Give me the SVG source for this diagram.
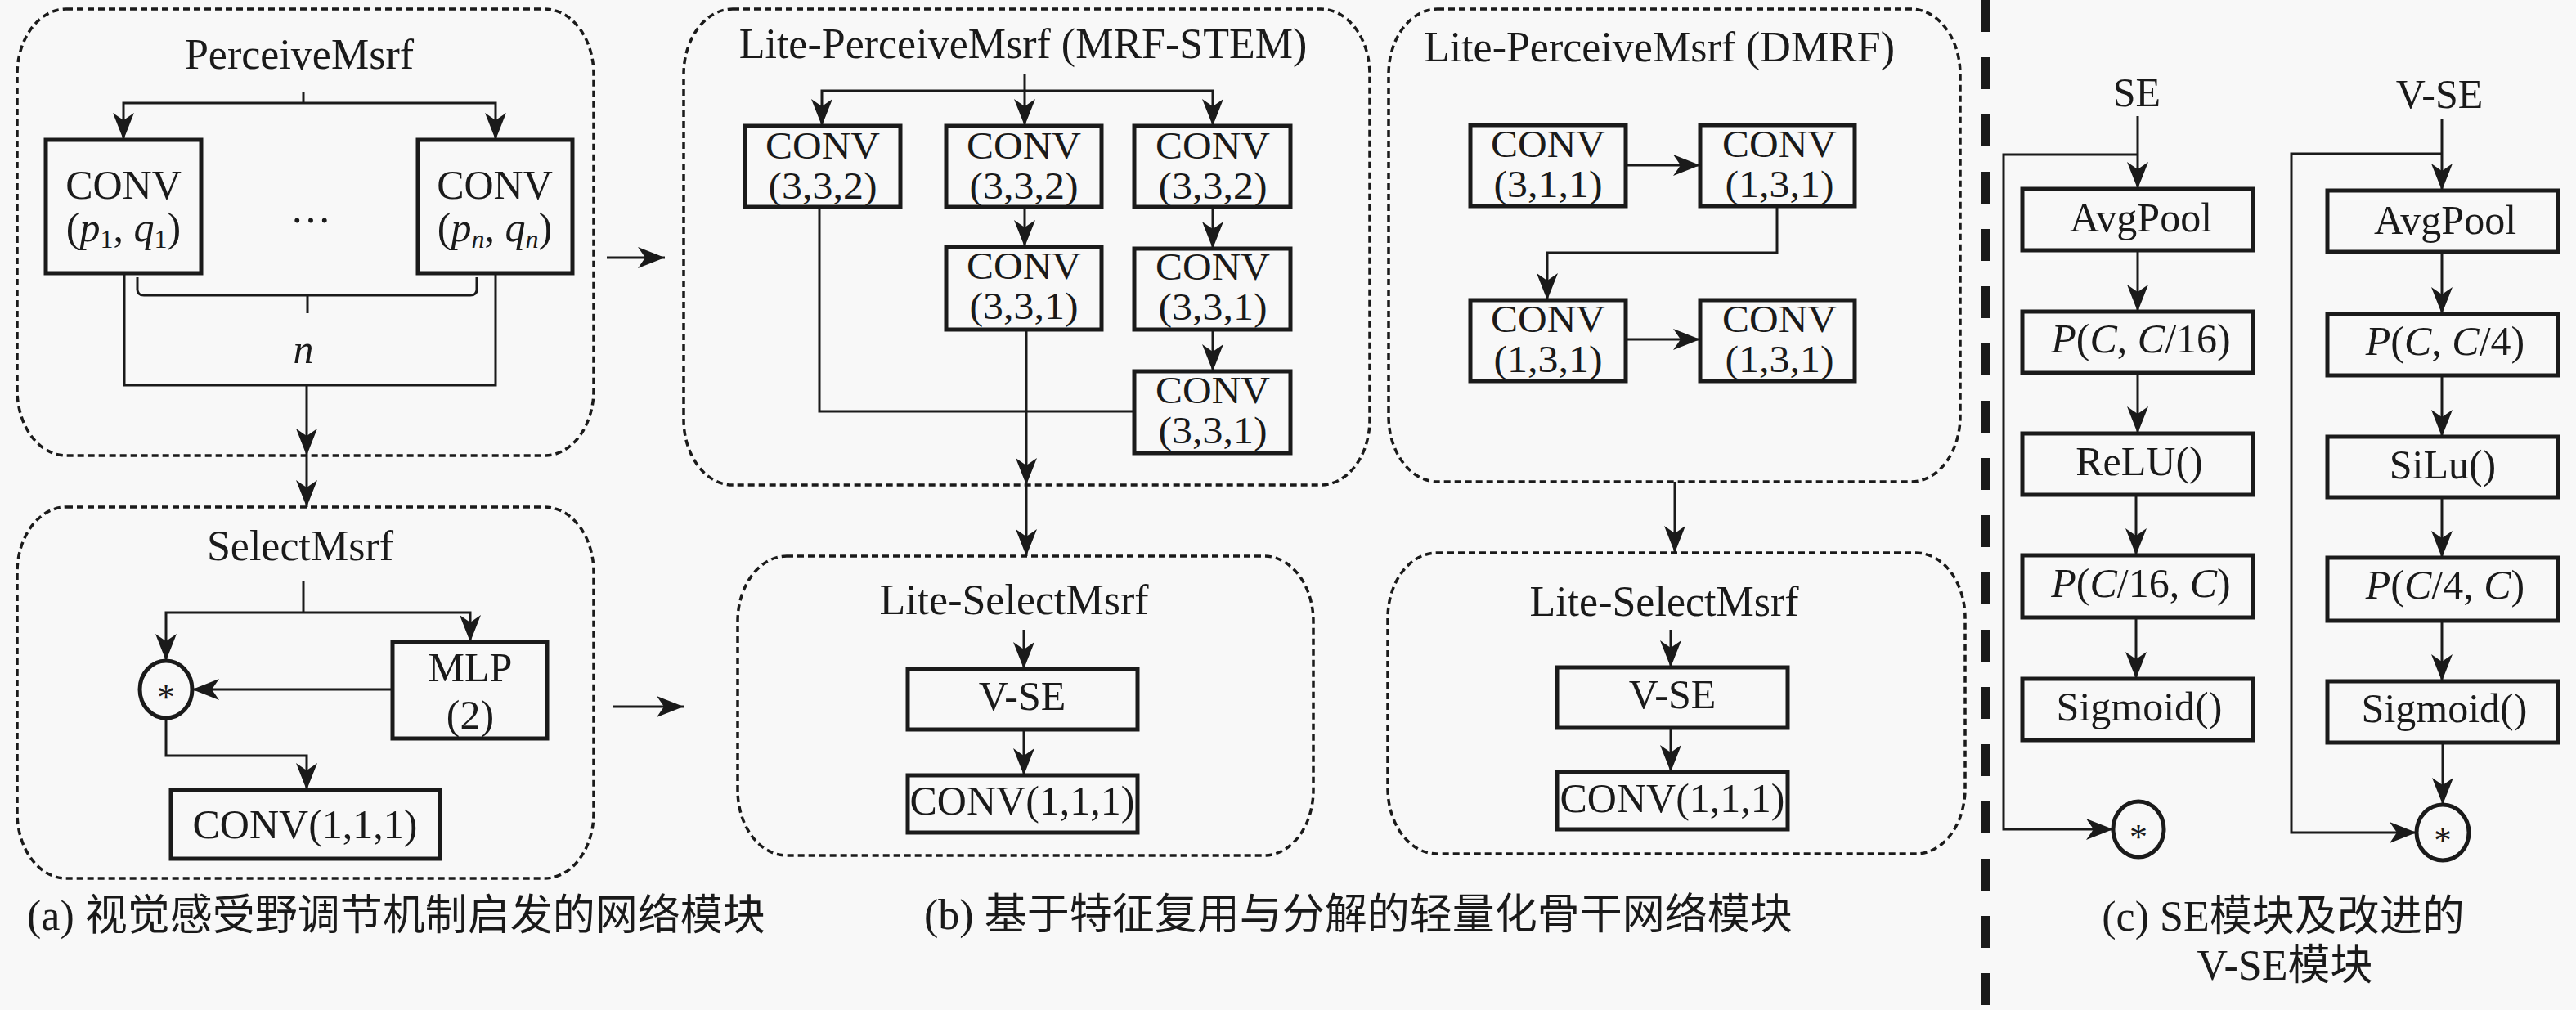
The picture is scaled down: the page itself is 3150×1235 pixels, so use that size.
<svg xmlns="http://www.w3.org/2000/svg" width="3150" height="1235" viewBox="0 0 3150 1235">
<defs>
<style>
.bg{fill:#f8f8f8}
.grp{fill:none;stroke:#1a1a1a;stroke-width:3.5;stroke-dasharray:8 5}
.box{fill:none;stroke:#1a1a1a;stroke-width:5}
.cn{fill:none;stroke:#1a1a1a;stroke-width:3}
.t{font-family:"Liberation Serif","Times New Roman",serif;font-size:50px;fill:#1a1a1a;text-anchor:middle}
.t2{font-family:"Liberation Serif","Times New Roman",serif;font-size:46px;fill:#1a1a1a;text-anchor:middle}
.tt{font-family:"Liberation Serif","Times New Roman",serif;font-size:52px;fill:#1a1a1a;text-anchor:middle}
.i{font-style:italic}
.sub{font-size:32px}
.cap{font-family:"Liberation Serif","Noto Sans CJK SC",serif;font-size:52px;fill:#1a1a1a}
</style>
<marker id="ah" markerUnits="userSpaceOnUse" markerWidth="34" markerHeight="26" viewBox="0 0 33 26" refX="33" refY="13" orient="auto">
<path d="M0,0 L33,13 L0,26 L9,13 Z" fill="#1a1a1a"/>
</marker>
</defs>
<rect class="bg" x="0" y="0" width="3150" height="1235"/>

<!-- Panel (a) -->
<g id="perceive-msrf">
<rect class="grp" x="21" y="11" width="705" height="546" rx="60" ry="80"/>
<text class="tt" x="366" y="84">PerceiveMsrf</text>
</g>
<g id="conv-p1">
<rect class="box" x="56" y="171" width="190" height="163"/>
<text class="t" x="151" y="243">CONV</text>
<text class="t" x="151" y="295">(<tspan class="i">p</tspan><tspan class="sub" dy="8">1</tspan><tspan dy="-8">, </tspan><tspan class="i">q</tspan><tspan class="sub" dy="8">1</tspan><tspan dy="-8">)</tspan></text>
</g>
<g id="conv-pn">
<rect class="box" x="511" y="171" width="189" height="163"/>
<text class="t" x="605" y="243">CONV</text>
<text class="t" x="605" y="295">(<tspan class="i">p</tspan><tspan class="sub i" dy="8">n</tspan><tspan dy="-8">, </tspan><tspan class="i">q</tspan><tspan class="sub i" dy="8">n</tspan><tspan dy="-8">)</tspan></text>
</g>
<g id="ellipsis"><text class="t" x="380" y="272">…</text></g>
<g id="n-label"><text class="t i" x="371" y="444">n</text></g>

<g id="select-msrf">
<rect class="grp" x="21" y="620" width="705" height="454" rx="60" ry="80"/>
<text class="tt" x="367" y="685">SelectMsrf</text>
</g>
<g id="mult-a">
<ellipse class="box" cx="203" cy="843" rx="32" ry="35"/>
<text class="t" x="203" y="867" style="font-size:44px">*</text>
</g>
<g id="mlp">
<rect class="box" x="480" y="785" width="189" height="118"/>
<text class="t" x="575" y="833">MLP</text>
<text class="t" x="575" y="891">(2)</text>
</g>
<g id="conv111-a">
<rect class="box" x="209" y="966" width="329" height="84"/>
<text class="t" x="373" y="1025">CONV(1,1,1)</text>
</g>

<!-- Panel (b) MRF-STEM -->
<g id="mrf-stem">
<rect class="grp" x="836" y="11" width="839" height="582" rx="60" ry="80"/>
<text class="tt" x="1251" y="71">Lite-PerceiveMsrf (MRF-STEM)</text>
</g>
<g id="mrf-b1"><rect class="box" x="911" y="154" width="190" height="99"/><text class="t2" x="1006" y="194" textLength="140" lengthAdjust="spacingAndGlyphs">CONV</text><text class="t2" x="1006" y="243" textLength="133" lengthAdjust="spacingAndGlyphs">(3,3,2)</text></g>
<g id="mrf-b2"><rect class="box" x="1157" y="154" width="190" height="99"/><text class="t2" x="1252" y="194" textLength="140" lengthAdjust="spacingAndGlyphs">CONV</text><text class="t2" x="1252" y="243" textLength="133" lengthAdjust="spacingAndGlyphs">(3,3,2)</text></g>
<g id="mrf-b3"><rect class="box" x="1387" y="154" width="191" height="99"/><text class="t2" x="1483" y="194" textLength="140" lengthAdjust="spacingAndGlyphs">CONV</text><text class="t2" x="1483" y="243" textLength="133" lengthAdjust="spacingAndGlyphs">(3,3,2)</text></g>
<g id="mrf-b2b"><rect class="box" x="1157" y="302" width="190" height="101"/><text class="t2" x="1252" y="341" textLength="140" lengthAdjust="spacingAndGlyphs">CONV</text><text class="t2" x="1252" y="390" textLength="133" lengthAdjust="spacingAndGlyphs">(3,3,1)</text></g>
<g id="mrf-b3b"><rect class="box" x="1387" y="304" width="191" height="99"/><text class="t2" x="1483" y="342" textLength="140" lengthAdjust="spacingAndGlyphs">CONV</text><text class="t2" x="1483" y="391" textLength="133" lengthAdjust="spacingAndGlyphs">(3,3,1)</text></g>
<g id="mrf-b3c"><rect class="box" x="1387" y="454" width="191" height="100"/><text class="t2" x="1483" y="493" textLength="140" lengthAdjust="spacingAndGlyphs">CONV</text><text class="t2" x="1483" y="542" textLength="133" lengthAdjust="spacingAndGlyphs">(3,3,1)</text></g>

<!-- Panel (b) DMRF -->
<g id="dmrf">
<rect class="grp" x="1698" y="11" width="699" height="578" rx="60" ry="80"/>
<text class="tt" x="2029" y="75">Lite-PerceiveMsrf (DMRF)</text>
</g>
<g id="dmrf-a"><rect class="box" x="1798" y="153" width="190" height="99"/><text class="t2" x="1893" y="192" textLength="140" lengthAdjust="spacingAndGlyphs">CONV</text><text class="t2" x="1893" y="241" textLength="133" lengthAdjust="spacingAndGlyphs">(3,1,1)</text></g>
<g id="dmrf-b"><rect class="box" x="2079" y="153" width="189" height="99"/><text class="t2" x="2176" y="192" textLength="140" lengthAdjust="spacingAndGlyphs">CONV</text><text class="t2" x="2176" y="241" textLength="133" lengthAdjust="spacingAndGlyphs">(1,3,1)</text></g>
<g id="dmrf-c"><rect class="box" x="1798" y="367" width="190" height="99"/><text class="t2" x="1893" y="406" textLength="140" lengthAdjust="spacingAndGlyphs">CONV</text><text class="t2" x="1893" y="455" textLength="133" lengthAdjust="spacingAndGlyphs">(1,3,1)</text></g>
<g id="dmrf-d"><rect class="box" x="2079" y="367" width="189" height="99"/><text class="t2" x="2176" y="406" textLength="140" lengthAdjust="spacingAndGlyphs">CONV</text><text class="t2" x="2176" y="455" textLength="133" lengthAdjust="spacingAndGlyphs">(1,3,1)</text></g>

<!-- Lite-SelectMsrf boxes -->
<g id="lite-select-1">
<rect class="grp" x="902" y="680" width="704" height="366" rx="60" ry="80"/>
<text class="tt" x="1240" y="751">Lite-SelectMsrf</text>
</g>
<g id="vse-1"><rect class="box" x="1110" y="818" width="281" height="74"/><text class="t" x="1250" y="868">V-SE</text></g>
<g id="conv111-b1"><rect class="box" x="1110" y="948" width="281" height="70"/><text class="t" x="1250" y="996">CONV(1,1,1)</text></g>

<g id="lite-select-2">
<rect class="grp" x="1697" y="676" width="706" height="368" rx="60" ry="80"/>
<text class="tt" x="2035" y="753">Lite-SelectMsrf</text>
</g>
<g id="vse-2"><rect class="box" x="1904" y="816" width="282" height="74"/><text class="t" x="2045" y="866">V-SE</text></g>
<g id="conv111-b2"><rect class="box" x="1904" y="944" width="282" height="70"/><text class="t" x="2045" y="993">CONV(1,1,1)</text></g>

<!-- Panel (c) -->
<g id="separator"><line x1="2428" y1="0" x2="2428" y2="1235" stroke="#1a1a1a" stroke-width="10" stroke-dasharray="39 31"/></g>
<g id="se-title"><text class="t" x="2613" y="130">SE</text></g>
<g id="se-avg"><rect class="box" x="2473" y="231" width="282" height="75"/><text class="t" x="2618" y="283">AvgPool</text></g>
<g id="se-p1"><rect class="box" x="2473" y="381" width="282" height="75"/><text class="t" x="2618" y="431"><tspan class="i">P</tspan>(<tspan class="i">C</tspan>, <tspan class="i">C</tspan>/16)</text></g>
<g id="se-relu"><rect class="box" x="2473" y="530" width="282" height="75"/><text class="t" x="2616" y="581">ReLU()</text></g>
<g id="se-p2"><rect class="box" x="2473" y="679" width="282" height="76"/><text class="t" x="2618" y="730"><tspan class="i">P</tspan>(<tspan class="i">C</tspan>/16, <tspan class="i">C</tspan>)</text></g>
<g id="se-sig"><rect class="box" x="2473" y="830" width="282" height="75"/><text class="t" x="2616" y="881">Sigmoid()</text></g>
<g id="se-mult"><ellipse class="box" cx="2615" cy="1014" rx="31" ry="34"/><text class="t" x="2615" y="1038" style="font-size:44px">*</text></g>

<g id="vse-title"><text class="t" x="2983" y="132">V-SE</text></g>
<g id="vse-avg"><rect class="box" x="2846" y="233" width="282" height="75"/><text class="t" x="2990" y="286">AvgPool</text></g>
<g id="vse-p1"><rect class="box" x="2846" y="384" width="282" height="75"/><text class="t" x="2990" y="434"><tspan class="i">P</tspan>(<tspan class="i">C</tspan>, <tspan class="i">C</tspan>/4)</text></g>
<g id="vse-silu"><rect class="box" x="2846" y="534" width="282" height="74"/><text class="t" x="2987" y="585">SiLu()</text></g>
<g id="vse-p2"><rect class="box" x="2846" y="682" width="282" height="77"/><text class="t" x="2990" y="732"><tspan class="i">P</tspan>(<tspan class="i">C</tspan>/4, <tspan class="i">C</tspan>)</text></g>
<g id="vse-sig"><rect class="box" x="2846" y="833" width="282" height="75"/><text class="t" x="2989" y="883">Sigmoid()</text></g>
<g id="vse-mult"><ellipse class="box" cx="2987" cy="1018" rx="32" ry="34"/><text class="t" x="2987" y="1042" style="font-size:44px">*</text></g>

<!-- Connectors -->
<g id="connectors">
<path class="cn" d="M371,113 V126"/>
<path class="cn" d="M371,126 H151 V171" marker-end="url(#ah)"/>
<path class="cn" d="M371,126 H606 V171" marker-end="url(#ah)"/>
<path class="cn" d="M168,339 V354 Q168,361 176,361 H575 Q583,361 583,354 V339"/>
<path class="cn" d="M376,361 V383"/>
<path class="cn" d="M152,334 V471 H606 V334"/>
<path class="cn" d="M375,471 V557" marker-end="url(#ah)"/>
<path class="cn" d="M375,557 V620" marker-end="url(#ah)"/>
<path class="cn" d="M742,315 H813" marker-end="url(#ah)"/>
<path class="cn" d="M750,864 H836" marker-end="url(#ah)"/>
<path class="cn" d="M371,710 V749"/>
<path class="cn" d="M371,749 H203 V808" marker-end="url(#ah)"/>
<path class="cn" d="M371,749 H575 V785" marker-end="url(#ah)"/>
<path class="cn" d="M480,843 H235" marker-end="url(#ah)"/>
<path class="cn" d="M203,878 V924 H375 V966" marker-end="url(#ah)"/>

<path class="cn" d="M1253,91 V111"/>
<path class="cn" d="M1253,111 H1005 V154" marker-end="url(#ah)"/>
<path class="cn" d="M1253,111 V154" marker-end="url(#ah)"/>
<path class="cn" d="M1253,111 H1483 V154" marker-end="url(#ah)"/>
<path class="cn" d="M1253,253 V302" marker-end="url(#ah)"/>
<path class="cn" d="M1483,253 V304" marker-end="url(#ah)"/>
<path class="cn" d="M1483,403 V454" marker-end="url(#ah)"/>
<path class="cn" d="M1002,253 V503 H1387"/>
<path class="cn" d="M1255,403 V593" marker-end="url(#ah)"/>
<path class="cn" d="M1255,593 V680" marker-end="url(#ah)"/>
<path class="cn" d="M1252,770 V818" marker-end="url(#ah)"/>
<path class="cn" d="M1252,892 V948" marker-end="url(#ah)"/>

<path class="cn" d="M1988,202 H2079" marker-end="url(#ah)"/>
<path class="cn" d="M1988,415 H2079" marker-end="url(#ah)"/>
<path class="cn" d="M2173,252 V309 H1892 V367" marker-end="url(#ah)"/>
<path class="cn" d="M2048,589 V676" marker-end="url(#ah)"/>
<path class="cn" d="M2043,770 V816" marker-end="url(#ah)"/>
<path class="cn" d="M2043,890 V944" marker-end="url(#ah)"/>

<path class="cn" d="M2614,142 V231" marker-end="url(#ah)"/>
<path class="cn" d="M2614,189 H2450 V1014 H2584" marker-end="url(#ah)"/>
<path class="cn" d="M2614,306 V381" marker-end="url(#ah)"/>
<path class="cn" d="M2614,456 V530" marker-end="url(#ah)"/>
<path class="cn" d="M2612,605 V679" marker-end="url(#ah)"/>
<path class="cn" d="M2612,755 V830" marker-end="url(#ah)"/>

<path class="cn" d="M2986,146 V233" marker-end="url(#ah)"/>
<path class="cn" d="M2986,188 H2802 V1018 H2955" marker-end="url(#ah)"/>
<path class="cn" d="M2986,308 V384" marker-end="url(#ah)"/>
<path class="cn" d="M2986,459 V534" marker-end="url(#ah)"/>
<path class="cn" d="M2986,608 V682" marker-end="url(#ah)"/>
<path class="cn" d="M2986,759 V833" marker-end="url(#ah)"/>
<path class="cn" d="M2987,908 V984" marker-end="url(#ah)"/>
</g>

<!-- Captions -->
<g id="captions">
<text class="cap" x="33" y="1137">(a) 视觉感受野调节机制启发的网络模块</text>
<text class="cap" x="1130" y="1136">(b) 基于特征复用与分解的轻量化骨干网络模块</text>
<text class="cap" x="2792" y="1138" text-anchor="middle">(c) SE模块及改进的</text>
<text class="cap" x="2794" y="1198" text-anchor="middle">V-SE模块</text>
</g>
</svg>
